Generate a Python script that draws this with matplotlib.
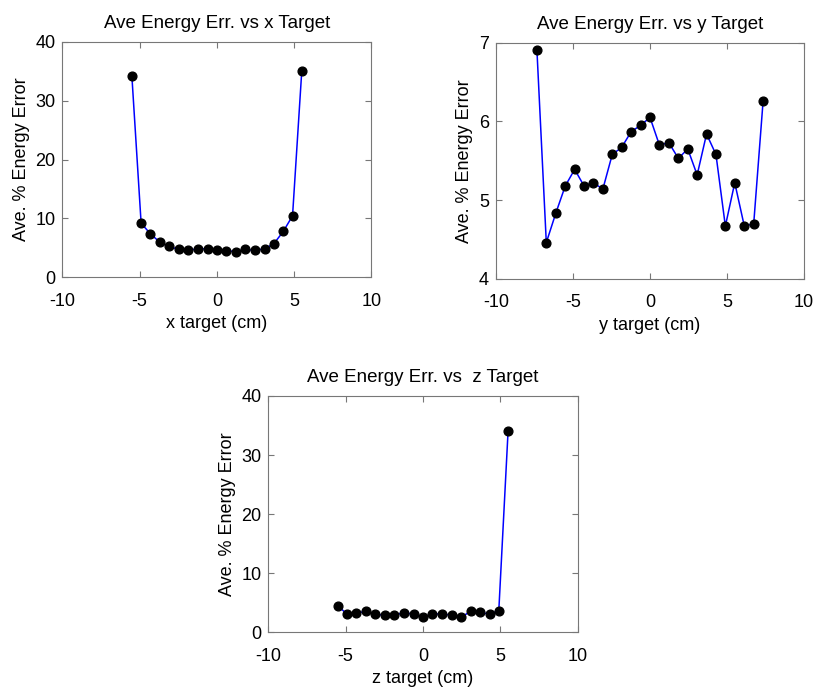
import matplotlib.pyplot as plt

# data
x_target = [-5.5, -4.9, -4.3, -3.7, -3.1, -2.45, -1.85, -1.25, -0.6, 0.0,
            0.6, 1.25, 1.85, 2.45, 3.1, 3.7, 4.3, 4.9, 5.5]
x_err = [34.2, 9.2, 7.4, 6.0, 5.25, 4.75, 4.6, 4.85, 4.85, 4.6,
         4.5, 4.4, 4.75, 4.6, 4.85, 5.75, 7.8, 10.45, 35.1]

y_target = [-7.34, -6.73, -6.12, -5.5, -4.89, -4.28, -3.67, -3.06, -2.45, -1.84,
            -1.22, -0.61, 0.0, 0.61, 1.22, 1.84, 2.45, 3.06, 3.67, 4.28,
            4.89, 5.5, 6.12, 6.73, 7.34]
y_err = [6.91, 4.46, 4.83, 5.18, 5.39, 5.18, 5.22, 5.14, 5.58, 5.67,
         5.87, 5.95, 6.05, 5.70, 5.73, 5.53, 5.65, 5.32, 5.84, 5.58,
         4.67, 5.22, 4.67, 4.70, 6.26]

z_target = [-5.5, -4.9, -4.3, -3.7, -3.1, -2.45, -1.85, -1.25, -0.6, 0.0,
            0.6, 1.25, 1.85, 2.45, 3.1, 3.7, 4.3, 4.9, 5.5]
z_err = [4.46, 3.05, 3.22, 3.56, 3.05, 2.88, 2.88, 3.33, 3.05, 2.54,
         3.1, 3.1, 2.88, 2.54, 3.56, 3.39, 3.05, 3.67, 34.07]

plt.rcParams['font.family'] = ['Liberation Sans', 'DejaVu Sans']
plt.rcParams['axes.unicode_minus'] = False

fig = plt.figure(figsize=(8.17, 6.91), dpi=100)

panels = [
    ([0.0763, 0.5985, 0.3782, 0.3412], x_target, x_err, (0, 40), [0, 10, 20, 30, 40],
     "Ave Energy Err. vs x Target", "x target (cm)"),
    ([0.607, 0.5965, 0.3772, 0.3417], y_target, y_err, (4, 7), [4, 5, 6, 7],
     "Ave Energy Err. vs y Target", "y target (cm)"),
    ([0.3284, 0.0850, 0.3787, 0.3420], z_target, z_err, (0, 40), [0, 10, 20, 30, 40],
     "Ave Energy Err. vs  z Target", "z target (cm)"),
]

fs = 13
for rect, xs, ys, ylim, yticks, title, xlabel in panels:
    ax = fig.add_axes(rect)
    ax.plot(xs, ys, color="blue", linewidth=1.1, marker="o", markersize=6.3,
            markerfacecolor="black", markeredgecolor="black")
    ax.set_xlim(-10, 10)
    ax.set_ylim(*ylim)
    ax.set_xticks([-10, -5, 0, 5, 10])
    ax.set_yticks(yticks)
    ax.tick_params(direction="in", top=True, right=True, length=4,
                   color="#777777", labelsize=fs)
    ax.tick_params(axis="x", pad=11)
    ax.tick_params(axis="y", pad=5)
    for s in ax.spines.values():
        s.set_color("#777777")
        s.set_linewidth(0.8)
    ax.set_title(title, fontsize=13.5, pad=10)
    ax.set_xlabel(xlabel, fontsize=fs, labelpad=4)
    ax.set_ylabel("Ave. % Energy Error", fontsize=fs, labelpad=4)

plt.savefig("out.png", dpi=100)
